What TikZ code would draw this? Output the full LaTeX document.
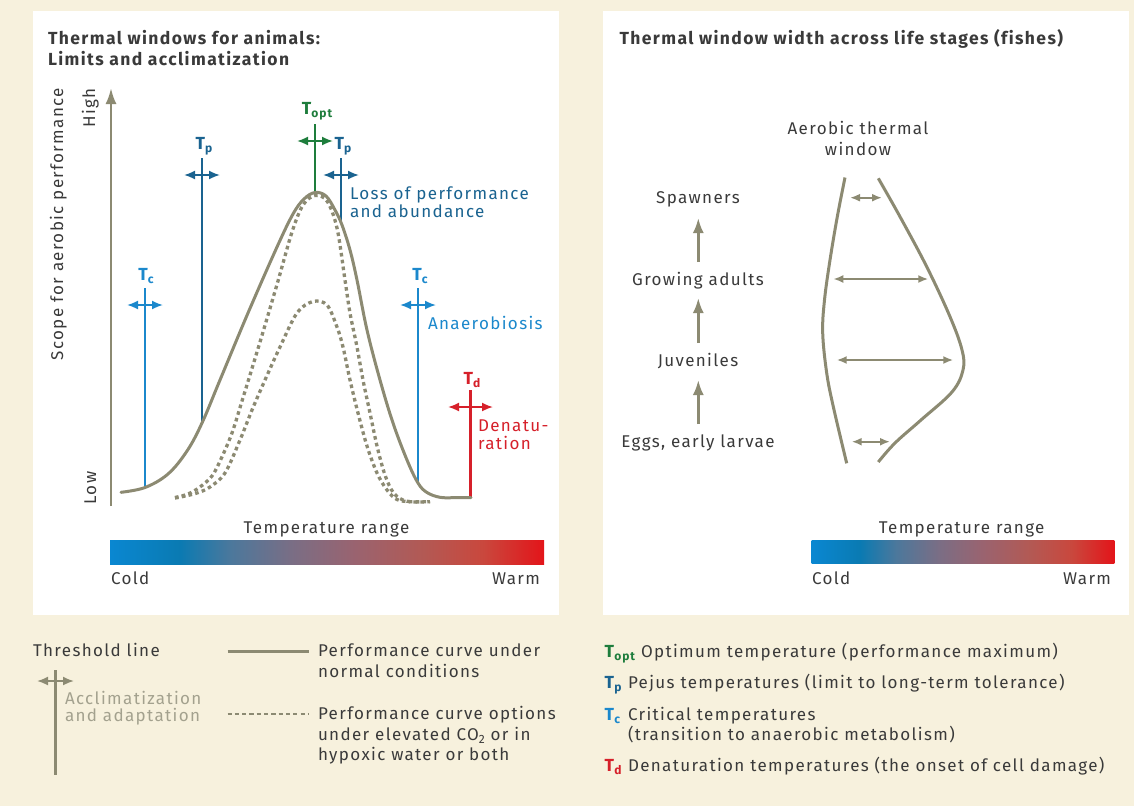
\documentclass[tikz,border=0pt]{standalone}
\usepackage{fontspec}
\setmainfont{Fira Sans}[LetterSpace=8, Ligatures={NoCommon}, BoldFeatures={LetterSpace=8}]
\usetikzlibrary{arrows.meta}

\definecolor{paper}{HTML}{F7F1DD}
\definecolor{ink}{HTML}{3A3A3A}
\definecolor{olive}{HTML}{8C8A72}
\definecolor{accl}{HTML}{A3A18E}
\definecolor{topt}{HTML}{1E7D3C}
\definecolor{tp}{HTML}{1A6390}
\definecolor{tc}{HTML}{1B88CC}
\definecolor{td}{HTML}{D6202A}

% cold-to-warm colour bar; the path covers the 25bp--75bp part
\pgfdeclarehorizontalshading{tempbar}{100bp}{
  rgb(0bp)=(0.04,0.53,0.82);
  rgb(25bp)=(0.04,0.53,0.82);
  rgb(33bp)=(0.04,0.48,0.70);
  rgb(39bp)=(0.30,0.47,0.61);
  rgb(46bp)=(0.48,0.43,0.52);
  rgb(53bp)=(0.60,0.39,0.44);
  rgb(61bp)=(0.70,0.35,0.33);
  rgb(68bp)=(0.79,0.28,0.24);
  rgb(75bp)=(0.89,0.08,0.10);
  rgb(100bp)=(0.89,0.08,0.10)}

\newcommand{\Tsym}[1]{\textbf{T\kern0.2pt\raisebox{-3pt}{\fontsize{12}{12}\selectfont\bfseries #1}}}

\begin{document}
\begin{tikzpicture}[x=1pt,y=-1pt,
  txt/.style={inner sep=0pt, outer sep=0pt, text=ink, font=\fontsize{17}{20}\selectfont},
  ttl/.style={txt, font=\fontsize{17.5}{20}\selectfont\bfseries},
  tlab/.style={inner sep=0pt, outer sep=0pt, font=\fontsize{17.5}{20}\selectfont},
  thr/.style={line width=2.2pt},
  dbl/.style={line width=1.8pt, {Latex[length=11pt,width=9pt]}-{Latex[length=11pt,width=9pt]}},
  curve/.style={draw=olive, line width=3pt, line cap=round},
  dcurve/.style={draw=olive, line width=3.3pt, dash pattern=on 3.6pt off 3.3pt},
  upar/.style={draw=olive, line width=2.6pt, -{Latex[length=15pt,width=11pt]}},
  wdbl/.style={draw=olive, line width=2pt, {Latex[length=10pt,width=8pt]}-{Latex[length=10pt,width=8pt]}},
]
% page and the two panels
\fill[paper] (0,0) rectangle (1134,806);
\useasboundingbox (0,0) rectangle (1134,806);
\fill[white] (33,11) rectangle (559,615);
\fill[white] (603,11) rectangle (1129,615);

% ---------- left panel ----------
\node[ttl, anchor=base west] (t1) at (48,44) {Thermal windows for animals:};
\node[ttl, anchor=base west] (t2) at (48,65) {Limits and acclimatization};

% axis
\coordinate (ax0) at (111,506);
\coordinate (ax1) at (111,88);
\draw[olive, line width=2.6pt, -{Latex[length=16pt,width=11pt]}] (ax0) -- (ax1);
\node[txt, rotate=90, anchor=base] (high) at (95,108) {High};
\node[txt, rotate=90, anchor=base] (low) at (96,488) {Low};
\node[txt, rotate=90, anchor=base] (scope) at (63,224) {Scope for aerobic performance};

% threshold lines (drawn below the curves)
\coordinate (tcl0) at (145,288);   \coordinate (tcl1) at (145,488);
\coordinate (tpl0) at (202,158);   \coordinate (tpl1) at (202,423);
\coordinate (to0)  at (315,124);   \coordinate (to1)  at (315,193);
\coordinate (tpr0) at (341,158);   \coordinate (tpr1) at (341,224);
\coordinate (tcr0) at (418,288);   \coordinate (tcr1) at (418,484);
\coordinate (td0)  at (470.5,390); \coordinate (td1)  at (470.5,498);
\draw[thr, tc] (tcl0) -- (tcl1);
\draw[thr, tp] (tpl0) -- (tpl1);
\draw[thr, topt] (to0) -- (to1);
\draw[thr, tp] (tpr0) -- (tpr1);
\draw[thr, tc] (tcr0) -- (tcr1);
\draw[thr, td] (td0) -- (td1);

% acclimatization arrows on the thresholds
\coordinate (a1l) at (127,305); \coordinate (a1r) at (163,305);
\coordinate (a2l) at (184,175); \coordinate (a2r) at (220,175);
\coordinate (a3l) at (297,141); \coordinate (a3r) at (333,141);
\coordinate (a4l) at (323,175); \coordinate (a4r) at (359,175);
\coordinate (a5l) at (400,305); \coordinate (a5r) at (436,305);
\coordinate (a6l) at (448,407); \coordinate (a6r) at (493,407);
\draw[dbl, tc] (a1l) -- (a1r);
\draw[dbl, tp] (a2l) -- (a2r);
\draw[dbl, topt] (a3l) -- (a3r);
\draw[dbl, tp] (a4l) -- (a4r);
\draw[dbl, tc] (a5l) -- (a5r);
\draw[dbl, td] (a6l) -- (a6r);

% threshold symbols
\node[tlab, tc, anchor=base] (tcl) at (146,280) {\Tsym{c}};
\node[tlab, tp, anchor=base] (tpl) at (204,149) {\Tsym{p}};
\node[tlab, topt, anchor=base] (topt) at (317,114) {\Tsym{opt}};
\node[tlab, tp, anchor=base] (tpr) at (343,149) {\Tsym{p}};
\node[tlab, tc, anchor=base] (tcr) at (420,280) {\Tsym{c}};
\node[tlab, td, anchor=base] (tdl) at (472,384) {\Tsym{d}};

% threshold captions
\node[txt, text=tp, anchor=base west] (loss1) at (350,199) {Loss of performance};
\node[txt, text=tp, anchor=base west] (loss2) at (350,217.5) {and abundance};
\node[txt, text=tc, anchor=base west] (anae) at (428,329) {Anaerobiosis};
\node[txt, text=td, anchor=base west] (den1) at (478,431.5) {Denatu-};
\node[txt, text=td, anchor=base west] (den2) at (478,449) {ration};

% performance curves
\draw[dcurve] plot[smooth, tension=0.55] coordinates {
  (175,497.5) (188,494) (200,487) (212,476) (221,459) (232,433) (242,401)
  (250,375) (263,332) (278,281) (292,232) (303,205) (315,195.5)
  (327,201) (337,228) (345,280) (350,313) (357,347) (363,380) (370,413)
  (377,446) (384,472) (391,489) (399,498) (410,501.7) (430,501.7)};
\draw[dcurve] plot[smooth, tension=0.55] coordinates {
  (175,498) (183,496.5) (197,493) (210,487) (225,473) (240,440) (252,410)
  (265,380) (280,347) (297,313) (313,301.5) (327,305) (337,327) (343,347)
  (350,380) (358,413) (367,446) (377,473) (387,490) (397,499.5) (410,501.7) (430,501.7)};
\draw[curve] plot[smooth, tension=0.6] coordinates {
  (121,492.3) (145,487.5) (168,474) (187,451) (202,423) (220,380)
  (248,313) (277,247) (293,214) (304,199) (315,192.5) (326,196) (335,210)
  (342,225) (350,250) (357,280) (367,330) (380,380) (393,423) (407,460)
  (418,483) (427,492.5) (440,497.3) (455,497.7) (471,497.7)};

% colour bar
\node[txt, anchor=base] (trl) at (326.5,533) {Temperature range};
\shade[shading=tempbar] (110,540) rectangle (544,564);
\node[txt, anchor=base west] (coldl) at (111,584) {Cold};
\node[txt, anchor=base east] (warml) at (540,584) {Warm};

% ---------- right panel ----------
\node[ttl, anchor=base west] (t3) at (619.5,44) {Thermal window width across life stages (fishes)};
\node[txt, anchor=base] (aw1) at (858,134.3) {Aerobic thermal};
\node[txt, anchor=base] (aw2) at (858,155) {window};

\node[txt, anchor=base] (spawn) at (698,203.3) {Spawners};
\node[txt, anchor=base] (grow) at (698,285) {Growing adults};
\node[txt, anchor=base] (juv) at (698,366.7) {Juveniles};
\node[txt, anchor=base] (eggs) at (698,447.7) {Eggs, early larvae};
\coordinate (s1a) at (698.3,262); \coordinate (s1b) at (698.3,218);
\coordinate (s2a) at (698.3,343); \coordinate (s2b) at (698.3,298);
\coordinate (s3a) at (698.3,424); \coordinate (s3b) at (698.3,380);
\draw[upar] (s1a) -- (s1b);
\draw[upar] (s2a) -- (s2b);
\draw[upar] (s3a) -- (s3b);

% window boundaries
\draw[curve, line cap=butt] plot[smooth, tension=0.6] coordinates {
  (845,177.5) (837.3,216.7) (830,260) (824.5,300) (822.7,333) (826.7,373)
  (833.3,406.7) (846.7,463.3)};
\draw[curve, line cap=butt] plot[smooth, tension=0.6] coordinates {
  (878.3,178.3) (900,216.7) (926.7,266.7) (950,316.7) (962,350) (963,370)
  (952,392) (921,420) (895,443) (878.3,462)};

% window widths
\coordinate (w1l) at (850,197.7); \coordinate (w1r) at (882,197.7);
\coordinate (w2l) at (833.3,279); \coordinate (w2r) at (928.3,279);
\coordinate (w3l) at (836.7,360); \coordinate (w3r) at (953.3,360);
\coordinate (w4l) at (851.7,441.7); \coordinate (w4r) at (890,441.7);
\draw[wdbl] (w1l) -- (w1r);
\draw[wdbl] (w2l) -- (w2r);
\draw[wdbl] (w3l) -- (w3r);
\draw[wdbl] (w4l) -- (w4r);

% colour bar
\node[txt, anchor=base] (trr) at (961.7,533) {Temperature range};
\shade[shading=tempbar] (811.7,540) rectangle (1114.3,563.5);
\node[txt, anchor=base west] (coldr) at (812,584) {Cold};
\node[txt, anchor=base east] (warmr) at (1111,584) {Warm};

% ---------- legend ----------
\node[txt, anchor=base west] (thl) at (33,656.7) {Threshold line};
\coordinate (lv0) at (55.5,670); \coordinate (lv1) at (55.5,775);
\draw[olive, line width=2.2pt] (lv0) -- (lv1);
\coordinate (la0) at (37,681); \coordinate (la1) at (74,681);
\draw[dbl, olive] (la0) -- (la1);
\node[txt, text=accl, anchor=base west] (acc1) at (65,704) {Acclimatization};
\node[txt, text=accl, anchor=base west] (acc2) at (65,721.7) {and adaptation};

\coordinate (ls0) at (227.5,651.7); \coordinate (ls1) at (309,651.7);
\draw[olive, line width=3pt] (ls0) -- (ls1);
\node[txt, anchor=base west] (pn1) at (318,656.7) {Performance curve under};
\node[txt, anchor=base west] (pn2) at (318,677.3) {normal conditions};

\coordinate (ld0) at (227.5,714); \coordinate (ld1) at (309,714);
\draw[olive, line width=2.5pt, dash pattern=on 4.2pt off 3.1pt] (ld0) -- (ld1);
\node[txt, anchor=base west] (pe1) at (318,719.3) {Performance curve options};
\node[txt, anchor=base west] (pe2) at (318,740) {under elevated CO\raisebox{-3pt}{\fontsize{12}{12}\selectfont 2} or in};
\node[txt, anchor=base west] (pe3) at (318,760) {hypoxic water or both};

\node[tlab, topt, anchor=base west] (lgo) at (604.7,657.3) {\Tsym{opt}};
\node[txt, anchor=base west] (lgot) at (641,657.3) {Optimum temperature (performance maximum)};
\node[tlab, tp, anchor=base west] (lgp) at (604.7,688.3) {\Tsym{p}};
\node[txt, anchor=base west] (lgpt) at (628,688.3) {Pejus temperatures (limit to long-term tolerance)};
\node[tlab, tc, anchor=base west] (lgc) at (604.7,720) {\Tsym{c}};
\node[txt, anchor=base west] (lgct) at (628,720) {Critical temperatures};
\node[txt, anchor=base west] (lgct2) at (628,740) {(transition to anaerobic metabolism)};
\node[tlab, td, anchor=base west] (lgd) at (604.7,771.7) {\Tsym{d}};
\node[txt, anchor=base west] (lgdt) at (628,771.7) {Denaturation temperatures (the onset of cell damage)};
\end{tikzpicture}
\end{document}
